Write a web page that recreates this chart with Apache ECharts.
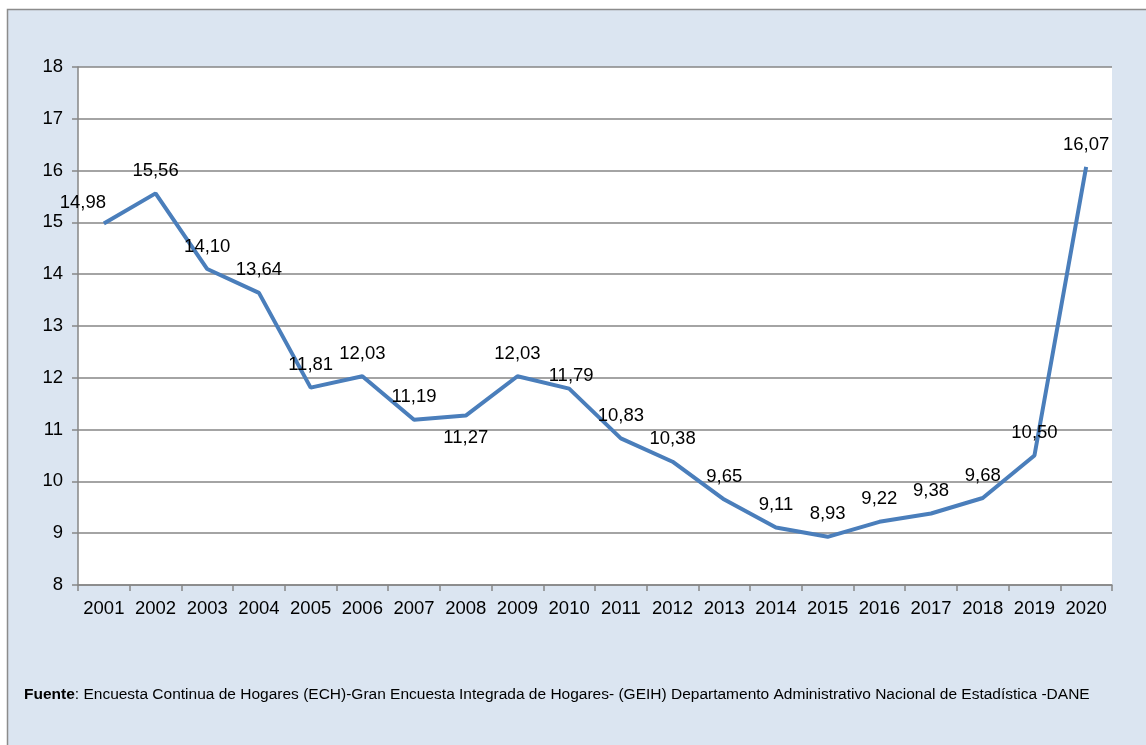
<!DOCTYPE html>
<html><head><meta charset="utf-8">
<script src="https://cdn.jsdelivr.net/npm/echarts@6/dist/echarts.min.js"></script>
<style>html,body{margin:0;padding:0;background:#fff}#c{width:1146px;height:745px}</style>
</head><body><div id="c"></div>
<script>
const years = ['2001','2002','2003','2004','2005','2006','2007','2008','2009','2010','2011','2012','2013','2014','2015','2016','2017','2018','2019','2020'];
const values = [14.98,15.56,14.10,13.64,11.81,12.03,11.19,11.27,12.03,11.79,10.83,10.38,9.65,9.11,8.93,9.22,9.38,9.68,10.50,16.07];
const yTicks = {min: 8, max: 18, interval: 1};
const sourceBold = 'Fuente';
const sourceText = ': Encuesta Continua de Hogares (ECH)-Gran Encuesta Integrada de Hogares- (GEIH) Departamento Administrativo Nacional de Estadística -DANE';

const fmt = v => v.toFixed(2).replace('.', ',');
const data = values.map((v, i) => {
  const d = {value: v};
  if (i === 0) d.label = {position: 'top', offset: [-21, 2]};
  if (i === 7) d.label = {position: 'bottom', distance: 13};
  if (i === 9) d.label = {position: 'top', offset: [2, 10]};
  return d;
});

const chart = echarts.init(document.getElementById('c'));
chart.setOption({
  backgroundColor: '#ffffff',
  animation: false,
  graphic: [{
    type: 'rect', shape: {x: 7.5, y: 9.5, width: 1160, height: 760},
    style: {fill: '#dbe5f1', stroke: '#8c8c8c', lineWidth: 1.5}, z: -10
  }, {
    type: 'rect', shape: {x: 78, y: 67, width: 1034, height: 518},
    style: {fill: '#ffffff'}, z: -5
  }],
  title: {
    text: '{b|' + sourceBold + '}{n|' + sourceText + '}',
    left: 19, top: 682,
    textStyle: {
      rich: {
        b: {fontFamily: 'Liberation Sans, sans-serif', fontWeight: 'bold', fontSize: 15.5, color: '#000'},
        n: {fontFamily: 'Liberation Sans, sans-serif', fontWeight: 'normal', fontSize: 15.5, color: '#000'}
      }
    }
  },
  grid: {left: 78, top: 67, right: 34, bottom: 160, containLabel: false},
  xAxis: {
    type: 'category', data: years, boundaryGap: true,
    axisLine: {lineStyle: {color: '#868686', width: 1.5}},
    axisTick: {show: true, interval: 0, length: 6, lineStyle: {color: '#868686', width: 1.5}},
    axisLabel: {interval: 0, color: '#000', fontFamily: 'Liberation Sans, Arial', fontSize: 18.5, margin: 14}
  },
  yAxis: {
    type: 'value', min: yTicks.min, max: yTicks.max, interval: yTicks.interval,
    axisLine: {show: true, lineStyle: {color: '#868686', width: 1.5}},
    axisTick: {show: true, length: 6, lineStyle: {color: '#868686', width: 1.5}},
    axisLabel: {color: '#000', fontFamily: 'Liberation Sans, Arial', fontSize: 18.5, margin: 15},
    splitLine: {show: true, lineStyle: {color: '#868686', width: 1.5}}
  },
  series: [{
    type: 'line', data: data, showSymbol: true, symbol: 'circle', symbolSize: 0.1,
    lineStyle: {color: '#4a7ebb', width: 4},
    itemStyle: {color: '#4a7ebb'},
    label: {show: true, position: 'top', distance: 13, formatter: p => fmt(p.value), color: '#000', fontFamily: 'Liberation Sans, Arial', fontSize: 18.5}
  }]
});
</script></body></html>
